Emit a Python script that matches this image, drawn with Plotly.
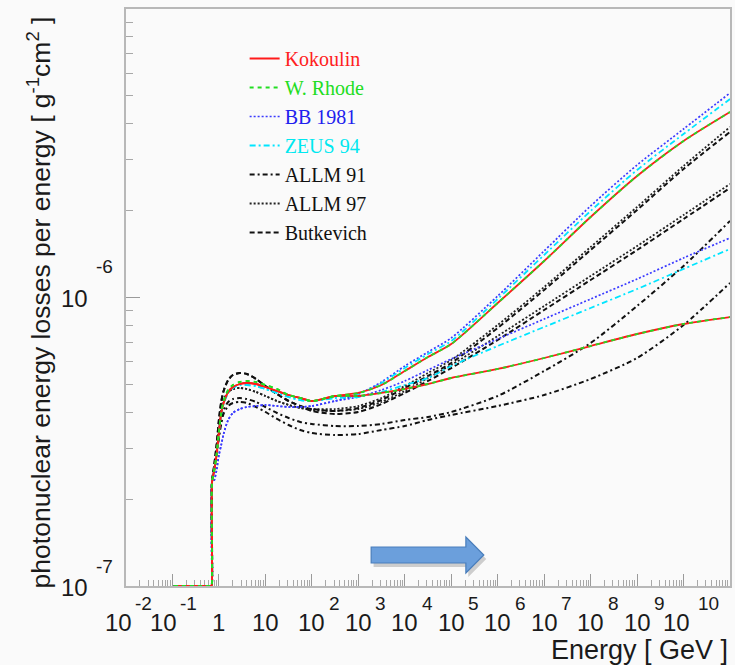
import plotly.graph_objects as go

# Muon energy [GeV]
energy = [0.107, 0.690, 0.700, 0.708, 0.794, 0.891, 1.0, 1.12, 1.26, 1.58, 2.0, 2.82, 3.98, 6.31,
          10, 17.8, 31.6, 56.2, 100, 316, 1e3, 3.16e3, 1e4, 3.16e4, 1e5, 1e6, 1e7, 1e8,
          1e9, 1e10, 1e11]

# photonuclear energy losses per energy, in units of 1e-7 g^-1 cm^2
kok_hard = [1.0, 1.0, 1.0, 2.275, 2.524, 2.845, 3.418, 3.978, 4.308, 4.704, 4.896, 5.014, 5.054, 5.014,
            4.896, 4.742, 4.592, 4.484, 4.378, 4.556, 4.667, 4.974, 5.562, 6.219, 6.899, 9.570,
            13.38, 19.01, 26.37, 34.87, 43.95]
kok_soft = [1.0, 1.0, 1.0, 2.275, 2.524, 2.845, 3.418, 3.978, 4.308, 4.704, 4.896, 5.014, 5.054, 5.014,
            4.896, 4.742, 4.592, 4.484, 4.378, 4.556, 4.556, 4.667, 4.818, 5.014, 5.260, 5.652,
            6.170, 6.790, 7.473, 8.094, 8.557]
rhode_hard = [1.0, 1.0, 1.0, 2.275, 2.524, 2.845, 3.418, 3.978, 4.378, 4.780, 4.974, 5.095, 5.136, 5.095,
              4.974, 4.818, 4.592, 4.484, 4.378, 4.556, 4.667, 4.974, 5.562, 6.219, 6.899, 9.570,
              13.38, 19.01, 26.37, 34.87, 43.95]
rhode_soft = [1.0, 1.0, 1.0, 2.275, 2.524, 2.845, 3.418, 3.978, 4.378, 4.780, 4.974, 5.095, 5.136, 5.095,
              4.974, 4.818, 4.592, 4.484, 4.378, 4.556, 4.556, 4.667, 4.818, 5.014, 5.260, 5.652,
              6.170, 6.790, 7.473, 8.094, 8.557]
bb_hard = [1.0, 1.0, 1.0, 2.275, 2.330, 2.524, 2.845, 3.081, 3.364, 3.763, 3.978, 4.106, 4.173, 4.206,
           4.240, 4.206, 4.173, 4.173, 4.206, 4.378, 4.629, 5.095, 5.788, 6.472, 7.238, 10.12,
           14.50, 20.76, 28.80, 38.38, 51.15]
bb_soft = [1.0, 1.0, 1.0, 2.275, 2.330, 2.524, 2.845, 3.081, 3.364, 3.763, 3.978, 4.106, 4.173, 4.206,
           4.240, 4.206, 4.173, 4.173, 4.206, 4.378, 4.520, 4.780, 5.136, 5.607, 6.120, 7.181,
           8.422, 9.881, 11.59, 13.71, 16.08]
zeus_hard = [1.0, 1.0, 1.0, 2.275, 2.524, 2.845, 3.418, 3.947, 4.274, 4.667, 4.857, 4.974, 4.974, 4.935,
             4.818, 4.667, 4.520, 4.413, 4.378, 4.484, 4.629, 5.054, 5.696, 6.370, 7.066, 9.881,
             14.04, 19.95, 27.67, 36.87, 48.75]
zeus_soft = [1.0, 1.0, 1.0, 2.275, 2.524, 2.845, 3.418, 3.947, 4.274, 4.667, 4.857, 4.974, 4.974, 4.935,
             4.818, 4.667, 4.520, 4.413, 4.378, 4.484, 4.520, 4.704, 4.974, 5.260, 5.788, 6.790,
             7.903, 9.197, 10.70, 12.56, 14.73]
allm91_a = [1.0, 1.0, 1.0, 2.275, 2.524, 2.845, 3.337, 3.763, 4.074, 4.343, 4.448, 4.484, 4.448, 4.343,
            4.173, 3.978, 3.823, 3.703, 3.644, 3.586, 3.586, 3.644, 3.763, 3.854, 4.010, 4.556,
            5.562, 6.954, 9.344, 12.86, 18.42]
allm91_b = [1.0, 1.0, 1.0, 2.275, 2.524, 2.845, 3.258, 3.644, 3.947, 4.206, 4.308, 4.343, 4.308, 4.173,
            4.010, 3.793, 3.615, 3.473, 3.391, 3.337, 3.364, 3.473, 3.586, 3.763, 3.916, 4.206,
            4.592, 5.218, 6.170, 8.030, 11.23]
allm97_a = [1.0, 1.0, 1.0, 2.275, 2.565, 2.961, 3.557, 4.074, 4.413, 4.704, 4.818, 4.857, 4.818, 4.704,
            4.556, 4.378, 4.240, 4.140, 4.106, 4.106, 4.206, 4.484, 4.935, 5.474, 6.072, 8.030,
            10.87, 14.96, 20.60, 28.57, 39.00]
allm97_b = [1.0, 1.0, 1.0, 2.275, 2.565, 2.961, 3.557, 4.074, 4.413, 4.704, 4.818, 4.857, 4.818, 4.704,
            4.556, 4.378, 4.240, 4.140, 4.074, 4.042, 4.106, 4.343, 4.742, 5.260, 5.834, 7.355,
            9.344, 11.87, 15.08, 19.32, 24.74]
butk_a = [1.0, 1.0, 1.0, 2.275, 2.627, 3.081, 3.763, 4.343, 4.742, 5.176, 5.388, 5.474, 5.431, 5.218,
          4.935, 4.629, 4.378, 4.206, 4.106, 4.042, 4.140, 4.413, 4.857, 5.345, 5.929, 7.841,
          10.62, 14.61, 20.11, 27.89, 37.47]
butk_b = [1.0, 1.0, 1.0, 2.275, 2.627, 3.081, 3.763, 4.343, 4.742, 5.176, 5.388, 5.474, 5.431, 5.218,
          4.935, 4.629, 4.378, 4.206, 4.042, 3.947, 4.010, 4.274, 4.667, 5.136, 5.696, 7.123,
          9.050, 11.50, 14.61, 18.71, 23.97]

# tick labels: decade exponent -> (base text, exponent text)
x_tick_exps = [-2, -1, 0, 1, 2, 3, 4, 5, 6, 7, 8, 9, 10]
x_tick_base = ["10", "10", "1", "10", "10", "10", "10", "10", "10", "10", "10", "10", "10"]
x_tick_sup = ["-2", "-1", "", "", "2", "3", "4", "5", "6", "7", "8", "9", "10"]
y_tick_exps = [-7, -6]
y_tick_base = ["10", "10"]
y_tick_sup = ["-7", "-6"]

UNIT = 1e-7

# (legend name, series list, line colour, dash, width, text colour, rank)
models = [
    ("ALLM 91", [allm91_a, allm91_b], "#111111", "5px,3px,2px,3px", 2.0, "#111111", 5),
    ("ALLM 97", [allm97_a, allm97_b], "#222222", "2px,2px", 1.8, "#111111", 6),
    ("Butkevich", [butk_a, butk_b], "#111111", "5px,3px", 2.0, "#111111", 7),
    ("BB 1981", [bb_hard, bb_soft], "#3a3aff", "2px,2px", 1.7, "#2020ee", 3),
    ("ZEUS 94", [zeus_hard, zeus_soft], "#00e5ff", "6px,3px,2px,3px", 1.8, "#00e8f0", 4),
    ("Kokoulin", [kok_hard, kok_soft], "#ff1a1a", "solid", 1.8, "#ff2020", 1),
    ("W. Rhode", [rhode_hard, rhode_soft], "#22dd22", "4px,4px", 1.8, "#22dd22", 2),
]

fig = go.Figure()
for name, series, col, dash, wid, tcol, rank in models:
    for i, s in enumerate(series):
        fig.add_trace(go.Scatter(
            x=energy, y=[v * UNIT for v in s], mode="lines",
            line=dict(color=col, dash=dash, width=wid, shape="spline", smoothing=0.7),
            name=f'<span style="color:{tcol}">{name}</span>',
            legendgroup=name, showlegend=(i == 0), legendrank=rank,
            hoverinfo="skip"))

minor_x = [m * 10 ** k for k in range(-2, 11) for m in range(2, 10)]
minor_y = [m * 10 ** k for k in (-7, -6) for m in range(2, 10)]

axis_common = dict(type="log", showgrid=False, zeroline=False, ticks="inside",
                   tickcolor="#9a9a9a", linecolor="#b8b8b8", linewidth=2, mirror=True,
                   showticklabels=False, layer="below traces")

fig.update_layout(
    width=735, height=665,
    margin=dict(l=126, r=3, t=9, b=79),
    paper_bgcolor="#fafafa", plot_bgcolor="#fafafa",
    showlegend=True,
    legend=dict(x=0.1964, y=0.9480, xanchor="left", yanchor="top",
                bgcolor="rgba(0,0,0,0)", borderwidth=0, itemwidth=30,
                tracegroupgap=2, traceorder="normal",
                font=dict(family="Liberation Serif", size=20, color="#111111")),
    xaxis=dict(range=[-2, 11], tickvals=[10 ** k for k in x_tick_exps] + [1e11], ticklen=12,
               minor=dict(tickvals=minor_x, ticks="inside", ticklen=6, tickcolor="#a8a8a8"),
               **axis_common),
    yaxis=dict(range=[-7, -5], tickvals=[10 ** k for k in y_tick_exps] + [1e-5], ticklen=14,
               minor=dict(tickvals=minor_y, ticks="inside", ticklen=7, tickcolor="#a8a8a8"),
               **axis_common),
)

lab_font = dict(family="Liberation Sans", size=24, color="#1a1a1a")
sup_font = dict(family="Liberation Sans", size=19, color="#1a1a1a")
x_shift = {-2: -8, -1: -9, 10: -7}
sup_gap = {10: 19}
for k, base, sup in zip(x_tick_exps, x_tick_base, x_tick_sup):
    sh = x_shift.get(k, 0)
    fig.add_annotation(text=base, xref="x", yref="paper", x=k, y=0, xshift=sh, yshift=-36,
                       xanchor="center", yanchor="middle", showarrow=False, font=lab_font)
    if sup:
        fig.add_annotation(text=sup, xref="x", yref="paper", x=k, y=0,
                           xshift=sh + sup_gap.get(k, 15), yshift=-17, xanchor="left",
                           yanchor="middle", showarrow=False, font=sup_font)
y_sup_shift = {-7: 20, -6: 31}
for k, base, sup in zip(y_tick_exps, y_tick_base, y_tick_sup):
    fig.add_annotation(text=base, xref="paper", yref="y", x=0, y=k, xshift=-36, yshift=-1,
                       xanchor="right", yanchor="middle", showarrow=False, font=lab_font)
    fig.add_annotation(text=sup, xref="paper", yref="y", x=0, y=k, xshift=-32,
                       yshift=y_sup_shift[k], xanchor="left", yanchor="middle",
                       showarrow=False, font=sup_font)

fig.add_annotation(text="Energy [ GeV ]", xref="paper", yref="paper", x=1.0, y=-0.1110,
                   xanchor="right", yanchor="middle", showarrow=False,
                   font=dict(family="Liberation Sans", size=27, color="#1a1a1a"))
fig.add_annotation(text="photonuclear energy losses per energy [ g<sup>-1</sup>cm<sup>2</sup> ]",
                   xref="paper", yref="paper", x=-0.1436, y=0.492, textangle=-90,
                   xanchor="center", yanchor="middle", showarrow=False,
                   font=dict(family="Liberation Sans", size=26.5, color="#1a1a1a"))

# decorative blue arrow (paper coordinates)
def arrow_path(dx=0.0, dy=0.0):
    pts = [(0.4059, 0.0676), (0.5627, 0.0676), (0.5627, 0.0849), (0.5924, 0.0537),
           (0.5627, 0.0225), (0.5627, 0.0399), (0.4059, 0.0399)]
    return "M " + " L ".join(f"{x + dx},{y + dy}" for x, y in pts) + " Z"

fig.add_shape(type="path", path=arrow_path(0.004, -0.007), xref="paper", yref="paper",
              fillcolor="rgba(0,0,0,0.18)", line=dict(width=0), layer="above")
fig.add_shape(type="path", path=arrow_path(), xref="paper", yref="paper",
              fillcolor="#6b9fdc", line=dict(color="#4a7ebb", width=1.2), layer="above")

fig.write_html("out.html")
